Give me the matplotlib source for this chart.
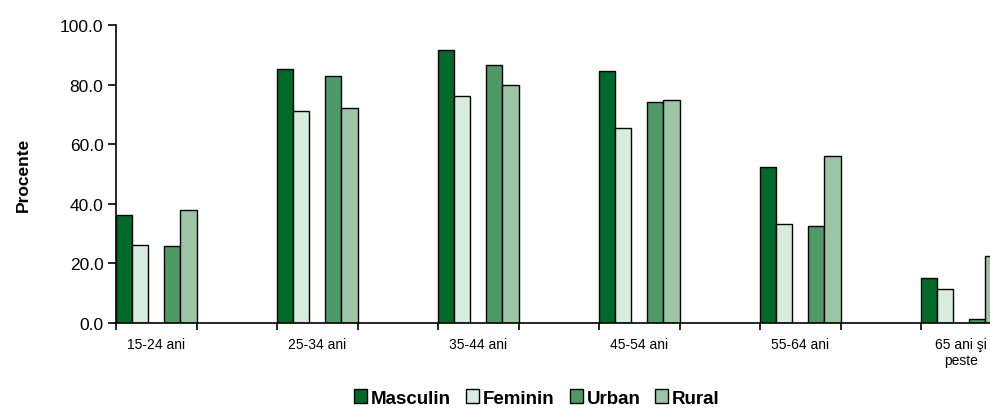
import matplotlib.pyplot as plt
import numpy as np

plt.rcParams['font.family'] = ['Liberation Sans', 'DejaVu Sans']

# date
grupe = ['15-24 ani', '25-34 ani', '35-44 ani', '45-54 ani', '55-64 ani', '65 ani şi\npeste']
serii = ['Masculin', 'Feminin', 'Urban', 'Rural']
masculin = [36.2, 85.1, 91.7, 84.5, 52.2, 15.1]
feminin = [26.2, 71.2, 76.3, 65.4, 33.2, 11.4]
urban = [25.7, 82.8, 86.5, 74.0, 32.6, 1.2]
rural = [37.9, 72.0, 80.0, 74.9, 56.0, 22.4]
culori = ['#006a2a', '#d8ebdf', '#4e9a66', '#9bc5a5']

fig = plt.figure(figsize=(9.9, 4.1), dpi=100)
# zona graficului iese in dreapta din imagine (ca in original)
ax = fig.add_axes([116/990, 86/410, 966/990, 298/410])

n = len(grupe)
poz = np.arange(n) * 2  # fiecare grupa ocupa o categorie, urmata de una goala
w = 0.2
sloturi = [0, 1, 3, 4]  # slotul 2 e gol
for valori, culoare, nume, s in zip([masculin, feminin, urban, rural], culori, serii, sloturi):
    ax.bar(poz + s*w, valori, width=w, align='edge', color=culoare,
           edgecolor='black', linewidth=1.0, label=nume)

ax.set_xlim(0, 2*n)
ax.set_ylim(0, 100)
ax.set_yticks(np.arange(0, 101, 20))
ax.set_yticklabels(['%.1f' % v for v in np.arange(0, 101, 20)], fontsize=12.5)
ax.set_xticks(np.arange(0, 2*n + 1))
ax.set_xticklabels([])
ax.set_xticks(poz + 0.5, minor=True)
ax.set_xticklabels(grupe, minor=True, fontsize=10)
ax.tick_params(axis='x', which='major', direction='out', length=5, width=1.2)
ax.tick_params(axis='x', which='minor', length=0, pad=10)
ax.tick_params(axis='y', direction='out', length=6, width=1.2, pad=3)

for sp in ['top', 'right']:
    ax.spines[sp].set_visible(False)
for sp in ['left', 'bottom']:
    ax.spines[sp].set_linewidth(1.2)

ax.set_ylabel('Procente', fontsize=12.5, fontweight='bold', labelpad=21)

fig.legend(loc='center', bbox_to_anchor=(537/990, 11/410), ncol=4, frameon=False,
           prop={'size': 13.5, 'weight': 'bold'}, handlelength=0.7, handleheight=0.7,
           handletextpad=0.2, columnspacing=0.8, borderpad=0.1)

fig.savefig('out.png', dpi=100)
